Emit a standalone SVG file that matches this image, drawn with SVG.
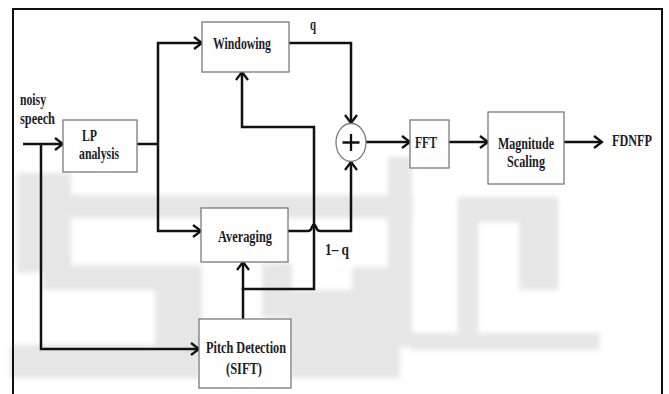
<svg xmlns="http://www.w3.org/2000/svg" width="669" height="394" viewBox="0 0 669 394">
<defs>
<style>
.box{fill:#fff;stroke:#7a7a7a;stroke-width:1.3}
.wm{fill:#e6e6e6}
.ln{fill:none;stroke:#111;stroke-width:2.5}
.t{font-family:"Liberation Serif","Times New Roman",serif;font-weight:bold;font-size:17px;fill:#1c1c28}
</style>
<filter id="soft" x="-10%" y="-10%" width="120%" height="120%">
<feGaussianBlur stdDeviation="2.5"/>
</filter>
<marker id="ah" markerUnits="userSpaceOnUse" markerWidth="12" markerHeight="16" refX="9" refY="7" orient="auto" viewBox="0 0 12 14">
<path d="M1,1 L9,7 L1,13" fill="none" stroke="#111" stroke-width="2.3"/>
</marker>
</defs>
<rect width="669" height="394" fill="#fff"/>
<g id="watermark" filter="url(#soft)">
<rect class="wm" x="71" y="195" width="131" height="23"/>
<rect class="wm" x="17" y="173" width="54" height="100"/>
<rect class="wm" x="43" y="265" width="112" height="25"/>
<rect class="wm" x="155" y="265" width="47" height="80"/>
<rect class="wm" x="10" y="345" width="190" height="33"/>
<rect class="wm" x="202" y="195" width="211" height="23"/>
<rect class="wm" x="388" y="157" width="24" height="190"/>
<rect class="wm" x="262" y="263" width="30" height="55"/>
<rect class="wm" x="352" y="267" width="36" height="66"/>
<rect class="wm" x="290" y="290" width="110" height="88"/>
<rect class="wm" x="458" y="197" width="100" height="25"/>
<rect class="wm" x="519" y="197" width="39" height="93"/>
<rect class="wm" x="458" y="197" width="20" height="140"/>
<rect class="wm" x="410" y="333" width="190" height="17"/>
</g>
<path d="M13,400 V9 H662 V400" fill="none" stroke="#111" stroke-width="2"/>
<g id="connectors">
<path class="ln" d="M23,144 H63" marker-end="url(#ah)"/>
<path class="ln" d="M41,144 V349 H199" marker-end="url(#ah)"/>
<path class="ln" d="M137,144 H158"/>
<path class="ln" d="M158,144 V43 H202" marker-end="url(#ah)"/>
<path class="ln" d="M158,144 V231 H201" marker-end="url(#ah)"/>
<path class="ln" d="M289,43 H351 V123" marker-end="url(#ah)"/>
<path class="ln" d="M288,231 H308 Q311,231 312,227 Q314,222 316,227 Q317,231 320,231 H351 V162" marker-end="url(#ah)"/>
<path class="ln" d="M243,319 V289 H314 V127 H242 V72" marker-end="url(#ah)"/>
<path class="ln" d="M243,290 V262" marker-end="url(#ah)"/>
<path class="ln" d="M366,142 H410" marker-end="url(#ah)"/>
<path class="ln" d="M449,142 H488" marker-end="url(#ah)"/>
<path class="ln" d="M564,142 H602" marker-end="url(#ah)"/>
</g>
<g id="input-label">
<text class="t" x="20" y="105" textLength="26" lengthAdjust="spacingAndGlyphs">noisy</text>
<text class="t" x="20" y="124" textLength="35" lengthAdjust="spacingAndGlyphs">speech</text>
</g>
<g id="lp">
<rect class="box" x="63" y="120" width="74" height="52"/>
<text class="t" x="82" y="141" textLength="15" lengthAdjust="spacingAndGlyphs">LP</text>
<text class="t" x="79" y="159" textLength="40" lengthAdjust="spacingAndGlyphs">analysis</text>
</g>
<g id="windowing">
<rect class="box" x="202" y="22" width="87" height="50"/>
<text class="t" x="213" y="49" textLength="58" lengthAdjust="spacingAndGlyphs">Windowing</text>
</g>
<g id="averaging">
<rect class="box" x="201" y="208" width="87" height="54"/>
<text class="t" x="218" y="242" textLength="54" lengthAdjust="spacingAndGlyphs">Averaging</text>
</g>
<g id="pitch">
<rect class="box" x="199" y="319" width="92" height="69"/>
<text class="t" x="206" y="353" textLength="80" lengthAdjust="spacingAndGlyphs">Pitch Detection</text>
<text class="t" x="226" y="374" textLength="36" lengthAdjust="spacingAndGlyphs">(SIFT)</text>
</g>
<g id="sum">
<ellipse cx="351" cy="142.5" rx="15" ry="19" fill="#fff" stroke="#7a7a7a" stroke-width="1.3"/>
<path d="M351,134 V151 M342.5,142.5 H359.5" stroke="#111" stroke-width="2.3"/>
</g>
<g id="weights">
<text class="t" x="310" y="30" textLength="6" lengthAdjust="spacingAndGlyphs">q</text>
<text class="t" x="325" y="255" textLength="24" lengthAdjust="spacingAndGlyphs">1– q</text>
</g>
<g id="fft">
<rect class="box" x="410" y="120" width="39" height="48"/>
<text class="t" x="415" y="148" textLength="22" lengthAdjust="spacingAndGlyphs">FFT</text>
</g>
<g id="magnitude">
<rect class="box" x="488" y="112" width="76" height="72"/>
<text class="t" x="498" y="149" textLength="56" lengthAdjust="spacingAndGlyphs">Magnitude</text>
<text class="t" x="507" y="167" textLength="38" lengthAdjust="spacingAndGlyphs">Scaling</text>
</g>
<g id="output">
<text class="t" x="612" y="146" textLength="40" lengthAdjust="spacingAndGlyphs">FDNFP</text>
</g>
</svg>
